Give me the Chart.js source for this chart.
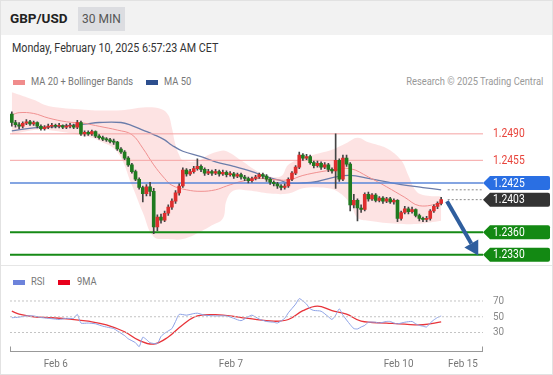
<!DOCTYPE html>
<html>
<head>
<meta charset="utf-8">
<script src="https://cdn.jsdelivr.net/npm/chart.js@4.4.1/dist/chart.umd.min.js"></script>
<style>
  body { margin: 0; background: #fff; font-family: Roboto, "Liberation Sans", sans-serif; }
  #frame { position: relative; width: 553px; height: 375px; overflow: hidden; background: #fff; }
  #frame > * { position: absolute; }
  #border { left: 0; top: 0; width: 551px; height: 373px; border: 1px solid #e2e2e2; z-index: 5; pointer-events: none; }
  #head { left: 0; top: 0; width: 553px; height: 35px; background: #f2f2f2; }
  #sym { left: 10px; top: 10px; font-weight: bold; font-size: 13.5px; color: #222; }
  #tf { left: 78px; top: 7px; width: 47px; height: 24px; line-height: 24px; text-align: center; background: #dcdde1; color: #555; font-size: 12px; }
  #date { left: 12px; top: 40px; font-size: 12.5px; color: #333; transform: scaleX(0.855); transform-origin: left center; white-space: nowrap; }
  .leg { font-size: 11px; color: #777; line-height: 12px; transform: scaleX(0.85); transform-origin: left center; white-space: nowrap; }
  .sw { width: 12px; height: 5px; }
  #sep { left: 0; top: 265px; width: 553px; height: 1px; background: #e6e6e6; z-index: 4; }
  canvas { left: 0; }
</style>
</head>
<body>
<div id="frame">
  <div id="head"></div>
  <div id="sym">GBP/USD</div>
  <div id="tf">30 MIN</div>
  <div id="date">Monday, February 10, 2025 6:57:23 AM CET</div>

  <div class="sw" style="left:13px;top:80px;background:#f08c8c"></div>
  <div class="leg" style="left:31px;top:76px">MA 20 + Bollinger Bands</div>
  <div class="sw" style="left:146px;top:80px;background:#2d4f8e"></div>
  <div class="leg" style="left:164px;top:76px">MA 50</div>
  <div class="leg" style="right:10px;top:76px;color:#999;transform-origin:right center">Research © 2025 Trading Central</div>

  <canvas id="main" width="553" height="178" style="top:88px"></canvas>
  <div id="sep"></div>

  <div class="sw" style="left:13px;top:280px;background:#6d83db"></div>
  <div class="leg" style="left:31px;top:276px">RSI</div>
  <div class="sw" style="left:58px;top:280px;background:#e8001c"></div>
  <div class="leg" style="left:77px;top:276px">9MA</div>

  <canvas id="rsi" width="553" height="87" style="top:288px"></canvas>
  <div id="border"></div>
</div>

<script>
// 30 min candles, Feb 5 evening -> Feb 10 06:30 CET
const opens = [1.2516,1.2505,1.2502,1.2500,1.2504,1.2506,1.2503,1.2505,1.2500,1.2497,
  1.2499,1.2500,1.2501,1.2500,1.2501,1.2499,1.2500,1.2501,1.2499,1.2505,
  1.2490,1.2492,1.2490,1.2493,1.2487,1.2485,1.2483,1.2482,1.2480,1.2479,
  1.2470,1.2466,1.2458,1.2449,1.2440,1.2430,1.2419,1.2411,1.2420,1.2414,
  1.2367,1.2380,1.2376,1.2385,1.2393,1.2401,1.2412,1.2421,1.2442,1.2437,
  1.2440,1.2444,1.2447,1.2443,1.2438,1.2440,1.2438,1.2440,1.2437,1.2439,
  1.2436,1.2437,1.2434,1.2436,1.2433,1.2431,1.2428,1.2431,1.2433,1.2436,
  1.2434,1.2430,1.2426,1.2424,1.2421,1.2419,1.2421,1.2430,1.2438,1.2446,
  1.2462,1.2458,1.2460,1.2452,1.2448,1.2451,1.2446,1.2449,1.2443,1.2441,
  1.2455,1.2430,1.2458,1.2450,1.2396,1.2402,1.2392,1.2390,1.2410,1.2404,
  1.2409,1.2402,1.2405,1.2401,1.2404,1.2400,1.2402,1.2378,1.2386,1.2391,
  1.2387,1.2390,1.2382,1.2378,1.2377,1.2378,1.2388,1.2394,1.2398];
const highs = [1.2519,1.2508,1.2505,1.2506,1.2509,1.2508,1.2507,1.2506,1.2502,1.2501,
  1.2503,1.2504,1.2503,1.2504,1.2502,1.2503,1.2504,1.2503,1.2508,1.2507,
  1.2494,1.2494,1.2495,1.2494,1.2489,1.2487,1.2485,1.2484,1.2483,1.2480,
  1.2472,1.2468,1.2460,1.2451,1.2442,1.2432,1.2421,1.2423,1.2426,1.2418,
  1.2383,1.2384,1.2388,1.2396,1.2404,1.2415,1.2424,1.2445,1.2444,1.2443,
  1.2447,1.2457,1.2449,1.2445,1.2443,1.2442,1.2443,1.2442,1.2442,1.2441,
  1.2440,1.2439,1.2438,1.2438,1.2435,1.2433,1.2433,1.2435,1.2438,1.2438,
  1.2436,1.2432,1.2428,1.2426,1.2423,1.2424,1.2432,1.2440,1.2448,1.2466,
  1.2464,1.2463,1.2462,1.2454,1.2454,1.2453,1.2452,1.2451,1.2445,1.2490,
  1.2457,1.2462,1.2462,1.2452,1.2410,1.2404,1.2396,1.2412,1.2413,1.2411,
  1.2411,1.2407,1.2407,1.2406,1.2406,1.2404,1.2403,1.2388,1.2394,1.2393,
  1.2393,1.2391,1.2384,1.2380,1.2381,1.2390,1.2396,1.2400,1.2406];
const lows = [1.2500,1.2499,1.2497,1.2498,1.2502,1.2501,1.2501,1.2498,1.2495,1.2495,
  1.2497,1.2498,1.2498,1.2498,1.2497,1.2497,1.2498,1.2497,1.2497,1.2488,
  1.2487,1.2488,1.2488,1.2485,1.2483,1.2481,1.2480,1.2478,1.2476,1.2468,
  1.2464,1.2456,1.2447,1.2438,1.2428,1.2417,1.2400,1.2408,1.2408,1.2358,
  1.2362,1.2372,1.2374,1.2382,1.2390,1.2398,1.2409,1.2419,1.2434,1.2435,
  1.2438,1.2442,1.2440,1.2435,1.2436,1.2435,1.2436,1.2434,1.2435,1.2433,
  1.2434,1.2431,1.2432,1.2430,1.2428,1.2425,1.2426,1.2429,1.2431,1.2431,
  1.2427,1.2423,1.2421,1.2418,1.2416,1.2417,1.2419,1.2428,1.2436,1.2444,
  1.2455,1.2456,1.2450,1.2445,1.2446,1.2443,1.2444,1.2440,1.2438,1.2418,
  1.2427,1.2428,1.2447,1.2388,1.2392,1.2375,1.2386,1.2388,1.2401,1.2402,
  1.2400,1.2400,1.2398,1.2399,1.2398,1.2397,1.2374,1.2376,1.2384,1.2384,
  1.2385,1.2380,1.2375,1.2374,1.2374,1.2376,1.2386,1.2391,1.2396];
const closes = [1.2505,1.2502,1.2500,1.2504,1.2506,1.2503,1.2505,1.2500,1.2497,1.2499,
  1.2500,1.2501,1.2500,1.2501,1.2499,1.2500,1.2501,1.2499,1.2505,1.2490,
  1.2492,1.2490,1.2493,1.2487,1.2485,1.2483,1.2482,1.2480,1.2479,1.2470,
  1.2466,1.2458,1.2449,1.2440,1.2430,1.2419,1.2411,1.2420,1.2414,1.2367,
  1.2380,1.2376,1.2385,1.2393,1.2401,1.2412,1.2421,1.2442,1.2437,1.2440,
  1.2444,1.2447,1.2443,1.2438,1.2440,1.2438,1.2440,1.2437,1.2439,1.2436,
  1.2437,1.2434,1.2436,1.2433,1.2431,1.2428,1.2431,1.2433,1.2436,1.2434,
  1.2430,1.2426,1.2424,1.2421,1.2419,1.2421,1.2430,1.2438,1.2446,1.2462,
  1.2458,1.2460,1.2452,1.2448,1.2451,1.2446,1.2449,1.2443,1.2441,1.2455,
  1.2430,1.2458,1.2450,1.2396,1.2402,1.2392,1.2390,1.2410,1.2404,1.2409,
  1.2402,1.2405,1.2401,1.2404,1.2400,1.2402,1.2378,1.2386,1.2391,1.2387,
  1.2390,1.2382,1.2378,1.2377,1.2378,1.2388,1.2394,1.2398,1.2403];

// indicators: [candle index, value]
const bbUpper = [[0,1.2545],[6,1.2535],[10,1.2527],[20,1.2522],[24,1.2521],[29,1.2521],[33,1.2523],[36,1.2525],
  [41,1.2523],[43,1.2515],[44,1.2498],[45,1.2475],[46,1.2462],[47,1.2455],[51,1.2454],[54,1.2462],[57,1.2467],
  [59,1.2467],[63,1.2455],[66,1.2445],[70,1.2435],[74,1.2434],[76,1.2449],[80,1.2458],[85,1.2465],[88,1.2469],
  [92,1.2478],[95,1.2485],[98,1.2479],[103,1.2471],[107,1.2455],[109,1.2435],[111,1.2415],[113,1.2409],[118,1.2407]];
const bbLower = [[0,1.2489],[6,1.2495],[10,1.2495],[20,1.2487],[24,1.2481],[29,1.2466],[33,1.2422],[36,1.2386],
  [39,1.2354],[43,1.2351],[47,1.2351],[52,1.2361],[55,1.2369],[58,1.2378],[59,1.2402],[61,1.2415],[65,1.2415],
  [71,1.2411],[76,1.2411],[80,1.2418],[85,1.2419],[89,1.2415],[93,1.2398],[95,1.2379],[98,1.2375],[106,1.2371],
  [112,1.2371],[118,1.2375]];
const ma20 = [[0,1.2515],[2,1.2518],[6,1.2517],[10,1.2511],[15,1.2506],[20,1.2504],[22,1.2502],[24,1.2500],
  [29,1.2495],[33,1.2489],[36,1.2471],[39,1.2449],[42,1.2431],[44,1.2422],[48,1.2416],[52,1.2414],[56,1.2416],
  [59,1.2421],[63,1.2427],[68,1.2431],[71,1.2430],[76,1.2429],[80,1.2435],[85,1.2440],[88,1.2442],[93,1.2444],
  [98,1.2433],[103,1.2420],[108,1.2406],[112,1.2395],[118,1.2398]];
const ma50 = [[0,1.2494],[6,1.2498],[10,1.2499],[20,1.2503],[24,1.2505],[30,1.2505],[33,1.2501],[36,1.2495],
  [39,1.2489],[42,1.2482],[44,1.2475],[47,1.2467],[52,1.2460],[56,1.2453],[61,1.2447],[66,1.2440],[70,1.2433],
  [74,1.2428],[76,1.2425],[80,1.2425],[84,1.2427],[89,1.2433],[93,1.2435],[98,1.2431],[107,1.2423],[113,1.2419],
  [118,1.2416]];

const levels = [1.2490, 1.2455, 1.2425, 1.2403, 1.2360, 1.2330];
const arrowFrom = [119.6, 1.2401];
const arrowTo = [128.2, 1.2329];

const rsi = [[0,48.7],[2,49.5],[4,51],[6,51],[8,49],[10,48],[12,47],[13,46.5],[15,48],[17,48],[18,53],[19,42],
  [21,42],[23,41],[25,38],[27,36],[28,35],[29,32],[31,26],[32,22],[34,17],[35,12],[36,24],[37,21],[38,17],
  [40,16],[41,25],[42,29],[43,32],[44,35],[45,44],[46,53],[48,52],[50,54],[51,54.5],[53,52],[56,51],[59,51],
  [61,48],[63,45],[65,50],[66,52],[68,47],[70,44],[72,43],[73,42],[75,48],[76,55],[78,66],[79,73],[80,70],
  [81,66],[82,60],[83,58],[85,57],[87,50],[88,46.5],[89,52],[90,60],[91,52],[93,40],[94,35],[95,34.5],[96,37],
  [97,39],[98,43],[100,43],[101,42],[103,44],[104,44],[105,42],[106,41],[108,43],[110,44],[111,41],[112,39],
  [113,38],[114,37],[115,42],[116,46],[117,49],[118,51]];
const rsiMa = [[0,57],[2,53.4],[6,50],[11,48.7],[16,47],[21,44.3],[26,39.8],[31,30.9],[35,20],[39,15.3],
  [43,24.3],[47,39.8],[51,51],[57,52.3],[65,47.8],[72,44.3],[76,46.5],[80,57.7],[84,63.5],[88,57.7],[92,53.3],
  [96,44.3],[103,42],[108,40.5],[113,39.8],[118,43.4]];
const rsiLevels = [30, 50, 70];

const dayTicks = [12.1, 60.2, 106.3, 124];
const dayLabels = ['Feb 6', 'Feb 7', 'Feb 10', 'Feb 15'];

// ---- styles ----
const xMin = -0.5, xMax = 129.5;
const UP = '#dd2e2e', DOWN = '#1f7a1f';
const FONT = 'Roboto, "Liberation Sans", sans-serif';
const levelLine = ['#f5a3a3', '#f5a3a3', '#5b87d8', null, '#168a16', '#168a16'];
const levelWidth = [1, 1, 1.6, 0, 2, 2];
const levelBox = [null, null, '#2a6fe3', '#333333', '#138913', '#138913'];
const levelText = ['#e8453c', '#e8453c', '#fff', '#fff', '#fff', '#fff'];

Chart.defaults.font.family = FONT;

const pts = arr => arr.map(([x, y]) => ({x, y}));
const flat = (v, a, b) => [{x: a, y: v}, {x: b, y: v}];
const idx = closes.map((_, i) => i);
const lastClose = closes[closes.length - 1];
const lastMa50 = ma50[ma50.length - 1][1];

// narrow text like the original UI font
function squeeze(ctx, text, x, y, align) {
  ctx.save();
  ctx.translate(x, y);
  ctx.scale(0.86, 1);
  ctx.textAlign = align;
  ctx.fillText(text, 0, 0);
  ctx.restore();
}

const lineBase = {type: 'line', pointRadius: 0, fill: false, borderWidth: 1};

const mainSets = [
  {...lineBase, data: pts(bbUpper), borderWidth: 0, fill: '+1', backgroundColor: 'rgba(250,170,170,0.33)', tension: 0.4, order: 10},
  {...lineBase, data: pts(bbLower), borderWidth: 0, tension: 0.4, order: 10},
  {...lineBase, data: pts(ma20), borderColor: '#f09090', tension: 0.4, order: 6},
  {...lineBase, data: pts(ma50), borderColor: '#6b7daa', borderWidth: 1.3, tension: 0.4, order: 6}
];
levels.forEach((v, k) => {
  if (!levelLine[k]) return;
  mainSets.push({...lineBase, data: flat(v, xMin, xMax), borderColor: levelLine[k], borderWidth: levelWidth[k], order: 5});
});
mainSets.push({...lineBase, data: flat(lastClose, 119.8, xMax), borderColor: '#8a8a8a', borderDash: [2, 2], order: 5});
mainSets.push({...lineBase, data: flat(lastMa50, 119.8, xMax), borderColor: '#8a8a8a', borderDash: [2, 2], order: 5});
mainSets.push({
  type: 'bar', data: idx.map(i => ({x: i, y: [lows[i], highs[i]]})),
  backgroundColor: '#444', barThickness: 1, grouped: false, order: 2
});
mainSets.push({
  type: 'bar', data: idx.map(i => ({x: i, y: [opens[i], closes[i]]})),
  backgroundColor: idx.map(i => closes[i] >= opens[i] ? UP : DOWN),
  barThickness: 3, minBarLength: 1, grouped: false, order: 1
});

function tag(ctx, x0, yc, w, h, color) {
  const t = yc - h / 2, b = yc + h / 2, r = x0 + w;
  ctx.beginPath();
  ctx.moveTo(x0, yc);
  ctx.lineTo(x0 + 7, t);
  ctx.lineTo(r - 2, t);
  ctx.quadraticCurveTo(r, t, r, t + 2);
  ctx.lineTo(r, b - 2);
  ctx.quadraticCurveTo(r, b, r - 2, b);
  ctx.lineTo(x0 + 7, b);
  ctx.closePath();
  ctx.fillStyle = color;
  ctx.fill();
}

const levelLabels = {
  id: 'levelLabels',
  afterDatasetsDraw(chart) {
    const {ctx, chartArea, scales: {x, y}} = chart;
    ctx.save();
    // forecast arrow
    const x1 = x.getPixelForValue(arrowFrom[0]), y1 = y.getPixelForValue(arrowFrom[1]);
    const x2 = x.getPixelForValue(arrowTo[0]), y2 = y.getPixelForValue(arrowTo[1]);
    const ang = Math.atan2(y2 - y1, x2 - x1);
    const hl = 14, hw = 8;
    ctx.strokeStyle = '#2f5e9e';
    ctx.fillStyle = '#2f5e9e';
    ctx.lineWidth = 4;
    ctx.beginPath();
    ctx.moveTo(x1, y1);
    ctx.lineTo(x2 - Math.cos(ang) * hl, y2 - Math.sin(ang) * hl);
    ctx.stroke();
    ctx.beginPath();
    ctx.moveTo(x2, y2);
    ctx.lineTo(x2 - Math.cos(ang) * hl - Math.sin(ang) * hw, y2 - Math.sin(ang) * hl + Math.cos(ang) * hw);
    ctx.lineTo(x2 - Math.cos(ang) * hl + Math.sin(ang) * hw, y2 - Math.sin(ang) * hl - Math.cos(ang) * hw);
    ctx.closePath();
    ctx.fill();

    // level tags
    ctx.font = '12px ' + FONT;
    ctx.textBaseline = 'middle';
    levels.forEach((v, k) => {
      const py = y.getPixelForValue(v);
      if (levelBox[k]) tag(ctx, chartArea.right, py, 67, 14, levelBox[k]);
      ctx.fillStyle = levelText[k];
      squeeze(ctx, v.toFixed(4), chartArea.right + 10, py + 0.5, 'left');
    });
    ctx.restore();
  }
};

new Chart(document.getElementById('main'), {
  type: 'bar',
  data: {datasets: mainSets},
  options: {
    responsive: false, animation: false, devicePixelRatio: 1,
    layout: {padding: {left: 10, right: 70, top: 2, bottom: 3.6}},
    plugins: {legend: {display: false}, tooltip: {enabled: false}},
    scales: {
      x: {type: 'linear', min: xMin, max: xMax, offset: false, display: false},
      y: {type: 'linear', min: 1.2320, max: 1.2548, display: false}
    }
  },
  plugins: [levelLabels]
});

// RSI axis line with end caps, day labels and level labels
const rsiAxes = {
  id: 'rsiAxes',
  afterDraw(chart) {
    const {ctx, chartArea: {left, right, bottom}, scales: {x, y}} = chart;
    const by = Math.round(bottom) + 0.5;
    ctx.save();
    ctx.strokeStyle = '#999';
    ctx.lineWidth = 1;
    ctx.beginPath();
    ctx.moveTo(left, by);
    ctx.lineTo(right, by);
    ctx.moveTo(Math.round(left) + 0.5, by - 5);
    ctx.lineTo(Math.round(left) + 0.5, by);
    ctx.moveTo(Math.round(right) - 0.5, by - 5);
    ctx.lineTo(Math.round(right) - 0.5, by);
    ctx.stroke();
    ctx.font = '11.5px ' + FONT;
    ctx.textBaseline = 'middle';
    ctx.fillStyle = '#777';
    dayTicks.forEach((v, k) => squeeze(ctx, dayLabels[k], x.getPixelForValue(v), bottom + 13, 'center'));
    ctx.fillStyle = '#888';
    rsiLevels.forEach(v => squeeze(ctx, String(v), right + 10, y.getPixelForValue(v), 'left'));
    ctx.restore();
  }
};

new Chart(document.getElementById('rsi'), {
  type: 'line',
  data: {
    datasets: [
      ...rsiLevels.map(v => ({...lineBase, data: flat(v, xMin, xMax), borderColor: '#c4c4c4', borderDash: [2, 2]})),
      {...lineBase, data: pts(rsi), borderColor: '#8da2e6', tension: 0.2},
      {...lineBase, data: pts(rsiMa), borderColor: '#e8343a', borderWidth: 1.3, tension: 0.4}
    ]
  },
  options: {
    responsive: false, animation: false, devicePixelRatio: 1,
    layout: {padding: {left: 10, right: 70, top: 4, bottom: 24}},
    plugins: {legend: {display: false}, tooltip: {enabled: false}},
    scales: {
      x: {type: 'linear', min: xMin, max: xMax, display: false},
      y: {type: 'linear', min: 6.5, max: 81.4, display: false}
    }
  },
  plugins: [rsiAxes]
});
</script>
</body>
</html>
